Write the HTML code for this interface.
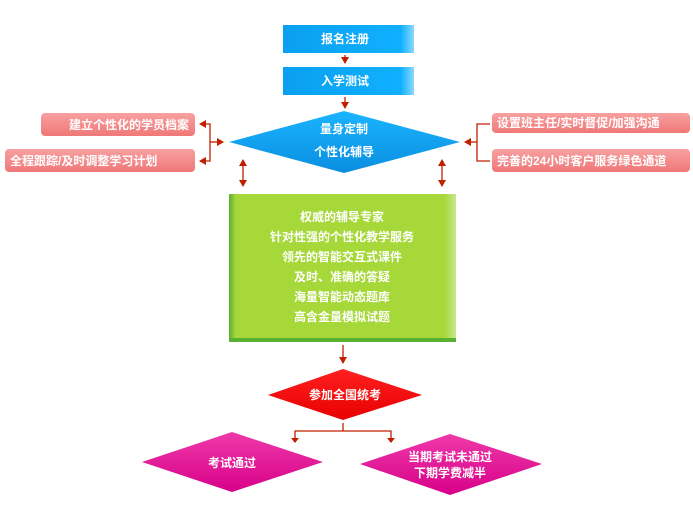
<!DOCTYPE html>
<html><head><meta charset="utf-8"><style>
body{margin:0;width:693px;height:515px;background:#fff;overflow:hidden}
svg text{font-family:"Liberation Sans","Noto Sans CJK SC",sans-serif;font-weight:bold;fill:#fff;font-size:12px}
</style></head><body>
<svg width="693" height="515" viewBox="0 0 693 515">
<defs>
<linearGradient id="bl" x1="0" y1="0" x2="1" y2="0"><stop offset="0" stop-color="#0aa0f0"/><stop offset="0.9" stop-color="#10b0ff"/><stop offset="1" stop-color="#8ad8ff"/></linearGradient>
<linearGradient id="dm" x1="0" y1="0" x2="0" y2="1"><stop offset="0" stop-color="#1ab4ff"/><stop offset="1" stop-color="#0a8ee0"/></linearGradient>
<linearGradient id="gr" x1="0" y1="0" x2="1" y2="0"><stop offset="0" stop-color="#58b030"/><stop offset="0.03" stop-color="#a6d83a"/><stop offset="0.95" stop-color="#a6d83a"/><stop offset="1" stop-color="#c8e890"/></linearGradient>
<linearGradient id="pk" x1="0" y1="0" x2="0" y2="1"><stop offset="0" stop-color="#f8a0a0"/><stop offset="1" stop-color="#f07878"/></linearGradient>
<linearGradient id="rd" x1="0" y1="0" x2="0" y2="1"><stop offset="0" stop-color="#ff2020"/><stop offset="1" stop-color="#e80000"/></linearGradient>
<linearGradient id="mg" x1="0" y1="0" x2="0" y2="1"><stop offset="0" stop-color="#ee3aa8"/><stop offset="1" stop-color="#d8008a"/></linearGradient>
<marker id="a" markerWidth="8" markerHeight="8" refX="6" refY="4" orient="auto" markerUnits="userSpaceOnUse"><path d="M0,0 L7,4 L0,8 Z" fill="#c02000"/></marker>
<marker id="s" markerWidth="8" markerHeight="8" refX="1" refY="4" orient="auto" markerUnits="userSpaceOnUse"><path d="M7,0 L0,4 L7,8 Z" fill="#c02000"/></marker>
</defs>
<g stroke="#c02000" stroke-width="1.3" fill="none">
<line x1="345" y1="55" x2="345" y2="63" marker-end="url(#a)"/>
<line x1="345" y1="97" x2="345" y2="108" marker-end="url(#a)"/>
<path d="M200,124 H210 V161 H200" marker-start="url(#s)" marker-end="url(#a)"/>
<line x1="210" y1="142" x2="223" y2="142" marker-end="url(#a)"/>
<path d="M490,124 H477 V161 H490"/>
<line x1="477" y1="142" x2="465" y2="142" marker-end="url(#a)"/>
<line x1="243" y1="160" x2="243" y2="186" marker-start="url(#s)" marker-end="url(#a)"/>
<line x1="442" y1="160" x2="442" y2="186" marker-start="url(#s)" marker-end="url(#a)"/>
<line x1="343" y1="345" x2="343" y2="363" marker-end="url(#a)"/>
<path d="M343,423 V431 H295 V442 M343,431 H391 V442"/>
</g>
<path d="M291,438 l4,5 l4,-5Z M387,438 l4,5 l4,-5Z" fill="#c02000"/>
<rect x="283" y="25" width="131" height="28" fill="url(#bl)"/>
<text x="345" y="43" text-anchor="middle">报名注册</text>
<rect x="283" y="67" width="131" height="28" fill="url(#bl)"/>
<text x="345" y="85" text-anchor="middle">入学测试</text>
<polygon points="229,142 344,111 460,142 344,173" fill="url(#dm)"/>
<text x="344" y="133" text-anchor="middle">量身定制</text>
<text x="344" y="156" text-anchor="middle">个性化辅导</text>
<rect x="41" y="113" width="154" height="23" rx="4" fill="url(#pk)"/>
<text x="189" y="129" text-anchor="end">建立个性化的学员档案</text>
<rect x="5" y="149" width="190" height="23" rx="4" fill="url(#pk)"/>
<text x="10" y="165">全程跟踪/及时调整学习计划</text>
<rect x="492" y="113" width="198" height="20" rx="4" fill="url(#pk)"/>
<text x="497" y="127">设置班主任/实时督促/加强沟通</text>
<rect x="492" y="149" width="198" height="23" rx="4" fill="url(#pk)"/>
<text x="497" y="165">完善的24小时客户服务绿色通道</text>
<rect x="229" y="194" width="227" height="148" fill="url(#gr)"/>
<rect x="229" y="338" width="227" height="4" fill="#58b030"/>
<g text-anchor="middle" style="font-size:12px">
<text x="342" y="221">权威的辅导专家</text>
<text x="342" y="241">针对性强的个性化教学服务</text>
<text x="342" y="261">领先的智能交互式课件</text>
<text x="342" y="281">及时、准确的答疑</text>
<text x="342" y="301">海量智能动态题库</text>
<text x="342" y="321">高含金量模拟试题</text>
</g>
<polygon points="268,395 343,369 422,395 343,420" fill="url(#rd)"/>
<text x="345" y="399" text-anchor="middle">参加全国统考</text>
<polygon points="142,462 232,432 323,462 232,492" fill="url(#mg)"/>
<text x="232" y="467" text-anchor="middle">考试通过</text>
<polygon points="360,464 450,434 542,464 450,495" fill="url(#mg)"/>
<text x="450" y="461" text-anchor="middle">当期考试未通过</text>
<text x="450" y="477" text-anchor="middle">下期学费减半</text>
</svg>
</body></html>
